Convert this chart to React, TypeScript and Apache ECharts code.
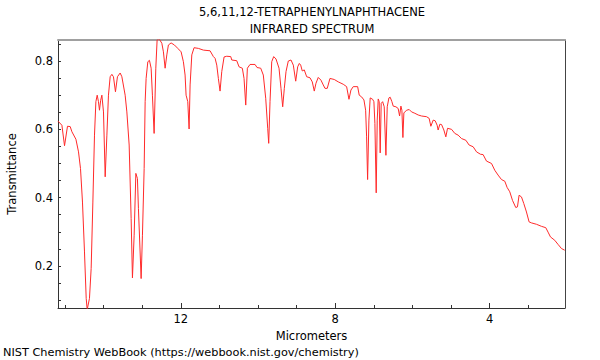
import React, { useEffect, useRef } from 'react';
import * as echarts from 'echarts';

const titleLines = ['5,6,11,12-TETRAPHENYLNAPHTHACENE', 'INFRARED SPECTRUM'];
const footerText = 'NIST Chemistry WebBook (https://webbook.nist.gov/chemistry)';
const xAxisName = 'Micrometers';
const yAxisName = 'Transmittance';

const wavelengthUm = [
  15.18, 15.079, 15.011, 14.934, 14.864, 14.82, 14.716, 14.649, 14.597, 14.546,
  14.494, 14.45, 14.424, 14.365, 14.321, 14.277, 14.235, 14.199, 14.165, 14.132,
  14.106, 14.075, 14.044, 14.002, 13.958, 13.914, 13.873, 13.829, 13.785, 13.744,
  13.692, 13.64, 13.57, 13.526, 13.441, 13.397, 13.337, 13.286, 13.252, 13.208,
  13.164, 13.123, 13.097, 13.027, 12.993, 12.949, 12.923, 12.898, 12.854, 12.812,
  12.768, 12.735, 12.691, 12.647, 12.613, 12.561, 12.491, 12.45, 12.406, 12.362,
  12.321, 12.251, 12.165, 12.077, 11.992, 11.933, 11.889, 11.863, 11.819, 11.785,
  11.759, 11.715, 11.656, 11.544, 11.415, 11.242, 11.156, 11.112, 11.068, 11.027,
  10.983, 10.939, 10.879, 10.81, 10.706, 10.68, 10.551, 10.491, 10.406, 10.362,
  10.318, 10.276, 10.207, 10.077, 10.026, 9.93, 9.863, 9.801, 9.749, 9.723,
  9.689, 9.645, 9.594, 9.534, 9.456, 9.405, 9.361, 9.319, 9.275, 9.216,
  9.146, 9.086, 9.024, 8.973, 8.931, 8.895, 8.854, 8.802, 8.74, 8.654,
  8.595, 8.543, 8.499, 8.44, 8.37, 8.31, 8.266, 8.207, 8.137, 8.026,
  7.922, 7.793, 7.705, 7.645, 7.594, 7.534, 7.42, 7.379, 7.317, 7.257,
  7.213, 7.188, 7.162, 7.128, 7.095, 7.032, 6.999, 6.973, 6.939, 6.913,
  6.887, 6.862, 6.836, 6.81, 6.773, 6.732, 6.688, 6.654, 6.61, 6.577,
  6.533, 6.499, 6.429, 6.37, 6.334, 6.3, 6.274, 6.248, 6.223, 6.153,
  6.085, 6.023, 5.938, 5.852, 5.764, 5.635, 5.568, 5.524, 5.464, 5.412,
  5.361, 5.335, 5.291, 5.247, 5.187, 5.136, 5.092, 4.988, 4.903, 4.818,
  4.729, 4.618, 4.533, 4.429, 4.341, 4.238, 4.171, 4.083, 3.953, 3.868,
  3.783, 3.695, 3.609, 3.55, 3.48, 3.41, 3.325, 3.281, 3.239, 3.177,
  3.118, 3.048, 2.98, 2.918, 2.789, 2.66, 2.548, 2.489, 2.427, 2.315,
  2.23, 2.142, 2.057,
];

const transmittance = [
  0.624, 0.612, 0.552, 0.609, 0.608, 0.593, 0.571, 0.534, 0.485, 0.387,
  0.241, 0.105, 0.072, 0.105, 0.193, 0.387, 0.583, 0.681, 0.7, 0.681,
  0.656, 0.685, 0.7, 0.651, 0.461, 0.583, 0.7, 0.754, 0.761, 0.754,
  0.71, 0.754, 0.765, 0.754, 0.7, 0.651, 0.554, 0.339, 0.165, 0.29,
  0.471, 0.456, 0.368, 0.163, 0.29, 0.485, 0.681, 0.749, 0.798, 0.802,
  0.779, 0.7, 0.588, 0.779, 0.862, 0.865, 0.852, 0.827, 0.779, 0.818,
  0.847, 0.853, 0.847, 0.837, 0.827, 0.798, 0.759, 0.7, 0.681, 0.601,
  0.73, 0.818, 0.839, 0.837, 0.832, 0.83, 0.813, 0.808, 0.788, 0.749,
  0.712, 0.769, 0.812, 0.814, 0.813, 0.803, 0.801, 0.783, 0.779, 0.749,
  0.671, 0.779, 0.79, 0.79, 0.781, 0.779, 0.759, 0.691, 0.603, 0.559,
  0.681, 0.798, 0.813, 0.806, 0.779, 0.72, 0.666, 0.72, 0.769, 0.8,
  0.803, 0.788, 0.741, 0.783, 0.793, 0.788, 0.771, 0.774, 0.754, 0.751,
  0.739, 0.712, 0.735, 0.752, 0.744, 0.73, 0.72, 0.72, 0.749, 0.746,
  0.739, 0.732, 0.725, 0.688, 0.715, 0.725, 0.725, 0.7, 0.695, 0.686,
  0.656, 0.578, 0.453, 0.627, 0.692, 0.688, 0.681, 0.617, 0.414, 0.627,
  0.689, 0.681, 0.531, 0.676, 0.681, 0.666, 0.524, 0.666, 0.692, 0.694,
  0.681, 0.668, 0.666, 0.661, 0.639, 0.668, 0.656, 0.576, 0.648, 0.656,
  0.658, 0.651, 0.647, 0.642, 0.639, 0.637, 0.632, 0.609, 0.627, 0.625,
  0.612, 0.598, 0.615, 0.614, 0.598, 0.578, 0.603, 0.6, 0.588, 0.583,
  0.573, 0.568, 0.554, 0.549, 0.534, 0.527, 0.526, 0.507, 0.5, 0.48,
  0.466, 0.453, 0.448, 0.43, 0.417, 0.392, 0.371, 0.373, 0.407, 0.402,
  0.383, 0.358, 0.329, 0.326, 0.322, 0.316, 0.312, 0.299, 0.285, 0.275,
  0.263, 0.251, 0.246,
];

const xLabelValues = [4, 8, 12];
const xTickValues = [3, 4, 5, 6, 7, 8, 9, 10, 11, 12, 13, 14, 15];
const yLabelValues = [0.2, 0.4, 0.6, 0.8];
const yTickValues = [0.1, 0.15, 0.2, 0.25, 0.3, 0.35, 0.4, 0.45, 0.5, 0.55, 0.6, 0.65, 0.7, 0.75, 0.8, 0.85];

const X_MIN = 2.05;
const X_MAX = 15.18;
const Y_MIN = 0.0768;
const Y_MAX = 0.8616;

const FONT = 'DejaVu Sans';
const FS = 11.5;

export default function App() {
  const ref = useRef<HTMLDivElement>(null);

  useEffect(() => {
    if (!ref.current) return;
    const chart = echarts.init(ref.current, null, { renderer: 'svg' });
    const data = wavelengthUm.map((w, i) => [w, transmittance[i]]);
    const axisBase = { type: 'value', min: X_MIN, max: X_MAX, inverse: true, splitLine: { show: false } };
    const yBase = { type: 'value', min: Y_MIN, max: Y_MAX, splitLine: { show: false } };
    chart.setOption({
      animation: false,
      backgroundColor: '#ffffff',
      grid: { left: 58, right: 35, top: 40, bottom: 52, containLabel: false, outerBoundsMode: 'none' },
      xAxis: [
        {
          ...axisBase,
          position: 'bottom',
          axisLine: { show: true, lineStyle: { color: '#333333', width: 1 } },
          axisTick: { show: true, inside: true, length: 5, customValues: xLabelValues, lineStyle: { color: '#333333' } },
          axisLabel: { show: true, customValues: xLabelValues, color: '#000', fontFamily: FONT, fontSize: FS, margin: 5 },
          name: xAxisName,
          nameLocation: 'middle',
          nameGap: 20,
          nameTextStyle: { color: '#000', fontFamily: FONT, fontSize: FS },
        },
        {
          ...axisBase,
          position: 'bottom',
          axisLine: { show: false },
          axisTick: { show: true, inside: true, length: 3, customValues: xTickValues, lineStyle: { color: '#333333' } },
          axisLabel: { show: false },
        },
        {
          ...axisBase,
          position: 'top',
          axisLine: { show: true, lineStyle: { color: '#a0a0a0', width: 2 } },
          axisTick: { show: false },
          axisLabel: { show: false },
        },
      ],
      yAxis: [
        {
          ...yBase,
          position: 'left',
          axisLine: { show: true, lineStyle: { color: '#333333', width: 1 } },
          axisTick: { show: true, inside: true, length: 3, customValues: yTickValues, lineStyle: { color: '#333333' } },
          axisLabel: { show: true, customValues: yLabelValues, color: '#000', fontFamily: FONT, fontSize: FS, margin: 5 },
          name: yAxisName,
          nameLocation: 'middle',
          nameGap: 40,
          nameTextStyle: { color: '#000', fontFamily: FONT, fontSize: FS },
        },
        {
          ...yBase,
          position: 'right',
          axisLine: { show: true, lineStyle: { color: '#444444', width: 1 } },
          axisTick: { show: false },
          axisLabel: { show: false },
        },
      ],
      graphic: [
        { type: 'text', x: 312, y: 12, style: { text: titleLines[0], fill: '#000', font: `${FS}px "${FONT}"`, textAlign: 'center', textVerticalAlign: 'middle' } },
        { type: 'text', x: 312, y: 29, style: { text: titleLines[1], fill: '#000', font: `${FS}px "${FONT}"`, textAlign: 'center', textVerticalAlign: 'middle' } },
        { type: 'text', x: 3, y: 352, style: { text: footerText, fill: '#000', font: `11.3px "${FONT}"`, textAlign: 'left', textVerticalAlign: 'middle' } },
      ],
      series: [
        {
          type: 'line',
          xAxisIndex: 0,
          yAxisIndex: 0,
          data,
          showSymbol: false,
          symbol: 'none',
          smooth: false,
          clip: true,
          lineStyle: { color: '#ff2a2a', width: 1 },
        },
      ],
    });
    return () => chart.dispose();
  }, []);

  return <div ref={ref} style={{ position: 'fixed', left: 0, top: 0, width: 600, height: 360 }} />;
}
